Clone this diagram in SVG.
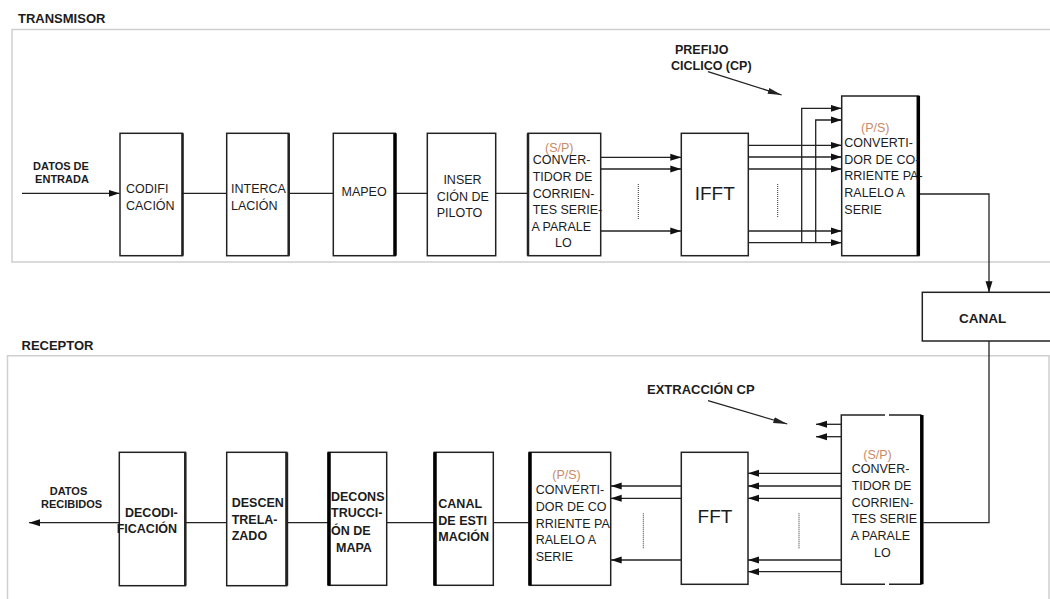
<svg xmlns="http://www.w3.org/2000/svg" width="1050" height="599" viewBox="0 0 1050 599">
<defs>
<marker id="ah" markerWidth="11" markerHeight="8" refX="11" refY="4" orient="auto" markerUnits="userSpaceOnUse"><path d="M0,0.5 L11,4 L0,7.5 z" fill="#111"/></marker>
<marker id="ahl" markerWidth="14" markerHeight="8" refX="14" refY="4" orient="auto" markerUnits="userSpaceOnUse"><path d="M0,1 L14,4 L0,7 z" fill="#222"/></marker>
<style>
.frame{fill:none;stroke:#cfcfcf;stroke-width:1.5}
.box{fill:#fff;stroke:#222;stroke-width:1.5}
.thick{stroke:#000;stroke-width:3.5;fill:none}
.ln{stroke:#222;stroke-width:1.3;fill:none}
.arr{stroke:#222;stroke-width:1.3;fill:none;marker-end:url(#ah)}
.dot{stroke:#333;stroke-width:1;stroke-dasharray:1 1;fill:none}
text{font-family:"Liberation Sans",Arial,sans-serif;fill:#1c1c1c}
.t{font-size:12.5px}
.b{font-size:12.5px;font-weight:bold}
.lbl{font-size:11px;font-weight:bold}
.ttl{font-size:13px;font-weight:bold}
.big{font-size:19px}
.or{fill:#c98b65}
</style>
</defs>

<g id="frames">
<path class="frame" d="M1050,29.5 H12 V262 H1050"/>
<path class="frame" d="M7.5,599 V355.7 H1049 V599"/>
<text class="ttl" x="18" y="22.5">TRANSMISOR</text>
<text class="ttl" x="21.5" y="350">RECEPTOR</text>
</g>

<g id="connectors">
<line class="arr" x1="22" y1="193.3" x2="119.5" y2="193.3"/>
<line class="ln" x1="182.5" y1="193.3" x2="226.7" y2="193.3"/>
<line class="ln" x1="288.7" y1="193.3" x2="333.3" y2="193.3"/>
<line class="ln" x1="395.7" y1="193.3" x2="427.3" y2="193.3"/>
<line class="ln" x1="495.7" y1="193.3" x2="528" y2="193.3"/>
<line class="arr" x1="600.7" y1="157.3" x2="681.3" y2="157.3"/>
<line class="arr" x1="600.7" y1="169" x2="681.3" y2="169"/>
<line class="arr" x1="600.7" y1="231" x2="681.3" y2="231"/>
<line class="dot" x1="638.3" y1="184" x2="638.3" y2="219"/>
<line class="arr" x1="748.3" y1="145.3" x2="841.7" y2="145.3"/>
<line class="arr" x1="748.3" y1="157" x2="841.7" y2="157"/>
<line class="arr" x1="748.3" y1="169" x2="841.7" y2="169"/>
<line class="arr" x1="748.3" y1="231" x2="841.7" y2="231"/>
<line class="arr" x1="748.3" y1="242.7" x2="841.7" y2="242.7"/>
<polyline class="arr" points="801.7,242.7 801.7,108.3 841.7,108.3"/>
<polyline class="arr" points="815.7,242.7 815.7,120 841.7,120"/>
<line class="dot" x1="777.7" y1="184" x2="777.7" y2="218"/>
<line class="ln" x1="708" y1="71.7" x2="781.7" y2="95" style="marker-end:url(#ahl)"/>
<polyline class="arr" points="919.3,194 989,194 989,292.3"/>
<polyline class="ln" points="989,341 989,522.7 923.3,522.7"/>

<line class="arr" x1="841.3" y1="424.3" x2="816" y2="424.3"/>
<line class="arr" x1="841.3" y1="436.7" x2="816" y2="436.7"/>
<line class="arr" x1="841.3" y1="473.3" x2="748" y2="473.3"/>
<line class="arr" x1="841.3" y1="486" x2="748" y2="486"/>
<line class="arr" x1="841.3" y1="498.3" x2="748" y2="498.3"/>
<line class="arr" x1="841.3" y1="560" x2="748" y2="560"/>
<line class="arr" x1="841.3" y1="571.7" x2="748" y2="571.7"/>
<line class="dot" x1="799" y1="513.3" x2="799" y2="548.3"/>
<line class="ln" x1="708" y1="400.7" x2="787.3" y2="424" style="marker-end:url(#ahl)"/>
<line class="arr" x1="681.3" y1="486" x2="610.7" y2="486"/>
<line class="arr" x1="681.3" y1="498.3" x2="610.7" y2="498.3"/>
<line class="arr" x1="681.3" y1="560" x2="610.7" y2="560"/>
<line class="dot" x1="643.3" y1="513.3" x2="643.3" y2="548.3"/>
<line class="ln" x1="529.3" y1="522.7" x2="493.3" y2="522.7"/>
<line class="ln" x1="434.3" y1="522.7" x2="386.7" y2="522.7"/>
<line class="ln" x1="328.3" y1="522.7" x2="286.7" y2="522.7"/>
<line class="ln" x1="226.7" y1="522.7" x2="185.3" y2="522.7"/>
<line class="arr" x1="119.3" y1="522.7" x2="29" y2="522.7"/>
</g>

<g id="label-entrada">
<text class="lbl" x="61" y="170" text-anchor="middle">DATOS DE</text>
<text class="lbl" x="62" y="182.7" text-anchor="middle">ENTRADA</text>
</g>
<g id="label-prefijo">
<text class="b" x="675" y="54">PREFIJO</text>
<text class="b" x="671" y="69.5">CICLICO (CP)</text>
</g>

<g id="codificacion">
<rect class="box" x="120" y="133.3" width="62.5" height="122.4"/>
<line class="ln" x1="182.5" y1="133.3" x2="182.5" y2="255.7" style="stroke-width:2.5"/>
<text class="t" x="126" y="193.3">CODIFI</text>
<text class="t" x="126" y="210">CACIÓN</text>
</g>
<g id="intercalacion">
<rect class="box" x="226.7" y="133.3" width="62" height="122.4"/>
<line class="ln" x1="288.7" y1="133.3" x2="288.7" y2="255.7" style="stroke-width:2.5"/>
<text class="t" x="231" y="193.3">INTERCA</text>
<text class="t" x="231" y="210">LACIÓN</text>
</g>
<g id="mapeo">
<rect class="box" x="333.3" y="133.3" width="62" height="122.4"/>
<line class="thick" x1="395" y1="133.3" x2="395" y2="255.7"/>
<text class="t" x="341.5" y="195.7">MAPEO</text>
</g>
<g id="insercion">
<rect class="box" x="427.3" y="133.3" width="68.4" height="122.4"/>
<text class="t" x="462.5" y="184" text-anchor="middle">INSER</text>
<text class="t" x="436.7" y="200.7">CIÓN DE</text>
<text class="t" x="436.7" y="216.7">PILOTO</text>
</g>
<g id="sp-tx">
<rect class="box" x="528" y="133.3" width="72.7" height="122.4"/>
<line class="ln" x1="528" y1="133.3" x2="528" y2="255.7" style="stroke-width:2.5"/>
<text class="t or" x="545" y="151.7">(S/P)</text>
<text class="t" x="532.7" y="164.3">CONVER-</text>
<text class="t" x="532.7" y="181">TIDOR DE</text>
<text class="t" x="532.7" y="197.5">CORRIEN-</text>
<text class="t" x="532.7" y="214">TES SERIE-</text>
<text class="t" x="531.5" y="231">A PARALE</text>
<text class="t" x="563.3" y="247.3" text-anchor="middle">LO</text>
</g>
<g id="ifft">
<rect class="box" x="681.3" y="133.3" width="67" height="122.4"/>
<text class="big" x="714.7" y="200" text-anchor="middle">IFFT</text>
</g>
<g id="ps-tx">
<rect class="box" x="841.7" y="96" width="77" height="159.7"/>
<line class="thick" x1="918.3" y1="96" x2="918.3" y2="255.7"/>
<text class="t or" x="861" y="131.7">(P/S)</text>
<text class="t" x="844.3" y="147.3">CONVERTI-</text>
<text class="t" x="844.3" y="163.7">DOR DE CO-</text>
<text class="t" x="844.3" y="180.3">RRIENTE PA-</text>
<text class="t" x="844.3" y="197">RALELO A</text>
<text class="t" x="844.3" y="213.5">SERIE</text>
</g>
<g id="canal">
<rect class="box" x="922.3" y="292.3" width="140" height="48.7"/>
<text x="982.7" y="322.7" text-anchor="middle" style="font-size:13.5px;font-weight:bold">CANAL</text>
</g>

<g id="label-extraccion">
<text class="b" x="647" y="394" style="font-size:13px">EXTRACCIÓN CP</text>
</g>
<g id="label-recibidos">
<text class="lbl" x="68.5" y="495" text-anchor="middle">DATOS</text>
<text class="lbl" x="71.5" y="508.3" text-anchor="middle">RECIBIDOS</text>
</g>

<g id="decodificacion">
<rect class="box" x="119.3" y="452.3" width="66" height="133.4"/>
<line class="ln" x1="185.3" y1="452.3" x2="185.3" y2="585.7" style="stroke-width:2.5"/>
<text class="b" x="125" y="517.3">DECODI-</text>
<text class="b" x="116.7" y="533.3">FICACIÓN</text>
</g>
<g id="desentrelazado">
<rect class="box" x="226.7" y="452.3" width="60" height="133.4"/>
<line class="ln" x1="286.7" y1="452.3" x2="286.7" y2="585.7" style="stroke-width:3"/>
<text class="b" x="231.7" y="507.3">DESCEN</text>
<text class="b" x="231.7" y="523.5">TRELA-</text>
<text class="b" x="231.7" y="540">ZADO</text>
</g>
<g id="deconstruccion">
<rect class="box" x="328.3" y="452.3" width="58.4" height="133"/>
<line class="thick" x1="329" y1="452.3" x2="329" y2="585.3"/>
<text class="b" x="331" y="500.7">DECONS</text>
<text class="b" x="331" y="517">TRUCCI-</text>
<text class="b" x="331" y="535">ÓN DE</text>
<text class="b" x="336" y="552.3">MAPA</text>
</g>
<g id="canal-estimacion">
<rect class="box" x="434.3" y="452.3" width="59" height="133"/>
<line class="thick" x1="435" y1="452.3" x2="435" y2="585.3"/>
<text class="b" x="438.3" y="508.3">CANAL</text>
<text class="b" x="438.3" y="524.5">DE ESTI</text>
<text class="b" x="438.3" y="541">MACIÓN</text>
</g>
<g id="ps-rx">
<rect class="box" x="529.3" y="452.3" width="81.4" height="133"/>
<line class="thick" x1="530" y1="452.3" x2="530" y2="585.3"/>
<text class="t or" x="552.3" y="479.3">(P/S)</text>
<text class="t" x="535.7" y="494.3">CONVERTI-</text>
<text class="t" x="535.7" y="511">DOR DE CO</text>
<text class="t" x="535.7" y="527.5">RRIENTE PA</text>
<text class="t" x="535.7" y="544">RALELO A</text>
<text class="t" x="535.7" y="560.7">SERIE</text>
</g>
<g id="fft">
<rect class="box" x="681.3" y="452.3" width="66.7" height="132"/>
<text class="big" x="715" y="523.3" text-anchor="middle">FFT</text>
</g>
<g id="sp-rx">
<path class="ln" d="M885,415 H841.3 V584.3 H885 M889,415 H921.5 M889,584.3 H921.5" style="stroke-width:1.5"/>
<line class="thick" x1="921.8" y1="415" x2="921.8" y2="584.3"/>
<text class="t or" x="863.3" y="459.3">(S/P)</text>
<text class="t" x="851.7" y="473.3">CONVER-</text>
<text class="t" x="851.7" y="490">TIDOR DE</text>
<text class="t" x="851.7" y="506.7">CORRIEN-</text>
<text class="t" x="851.7" y="523.3">TES SERIE</text>
<text class="t" x="850.7" y="540">A PARALE</text>
<text class="t" x="874" y="556.7">LO</text>
</g>
</svg>
